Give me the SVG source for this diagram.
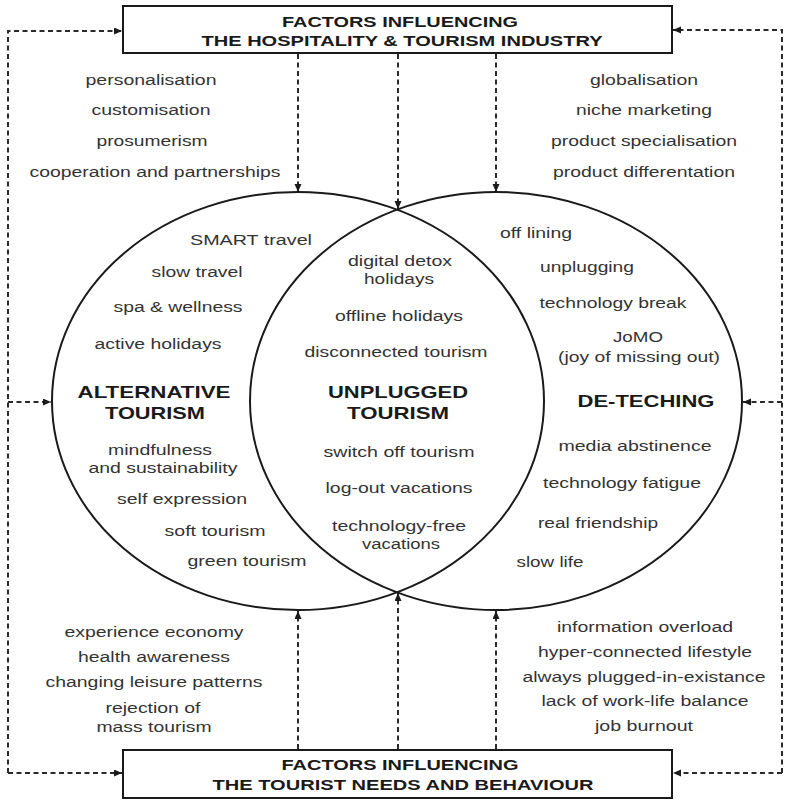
<svg xmlns="http://www.w3.org/2000/svg" width="785" height="801" viewBox="0 0 785 801">
<style>
  .bg{fill:#ffffff}
  .box{fill:#ffffff;stroke:#1a1a1a;stroke-width:2}
  .ell{fill:none;stroke:#1a1a1a;stroke-width:2}
  .dash{fill:none;stroke:#2a2a2a;stroke-width:2;stroke-dasharray:5 3.5}
  .arr{marker-end:url(#ah)}
  text{font-family:"Liberation Sans",Arial,sans-serif;text-anchor:middle}
  .t{font-size:15.5px;fill:#333333}
  .h{font-size:15px;font-weight:bold;fill:#1a1a1a}
  .b{font-size:17px;font-weight:bold;fill:#1a1a1a}
</style>
<defs>
  <marker id="ah" markerUnits="userSpaceOnUse" markerWidth="9" markerHeight="8" refX="8" refY="3.5" orient="auto">
    <path d="M0,0 L8,3.5 L0,7 z" fill="#1a1a1a"/>
  </marker>
</defs>
<rect class="bg" x="0" y="0" width="785" height="801"/>

<g id="connectors">
  <polyline class="dash arr" points="8,773 8,31 122,31"/>
  <line class="dash arr" x1="8" y1="773" x2="122" y2="773"/>
  <line class="dash arr" x1="8" y1="402" x2="51" y2="402"/>
  <polyline class="dash arr" points="782,773 782,30 673,30"/>
  <line class="dash arr" x1="782" y1="773" x2="673" y2="773"/>
  <line class="dash arr" x1="782" y1="402" x2="743" y2="402"/>
  <line class="dash arr" x1="298" y1="54" x2="298" y2="192"/>
  <line class="dash arr" x1="398" y1="54" x2="398" y2="209"/>
  <line class="dash arr" x1="496" y1="54" x2="496" y2="192"/>
  <line class="dash arr" x1="298" y1="749" x2="298" y2="611"/>
  <line class="dash arr" x1="398" y1="749" x2="398" y2="593"/>
  <line class="dash arr" x1="496" y1="749" x2="496" y2="611"/>
</g>

<g id="node-industry">
  <rect class="box" x="123" y="6" width="549" height="47"/>
  <text class="h" x="400" y="26.5" textLength="236" lengthAdjust="spacingAndGlyphs">FACTORS INFLUENCING</text>
  <text class="h" x="402" y="46" textLength="401" lengthAdjust="spacingAndGlyphs">THE HOSPITALITY &amp; TOURISM INDUSTRY</text>
</g>

<g id="node-tourist">
  <rect class="box" x="123" y="750" width="549" height="48"/>
  <text class="h" x="400" y="769.5" textLength="237" lengthAdjust="spacingAndGlyphs">FACTORS INFLUENCING</text>
  <text class="h" x="403" y="789.5" textLength="381" lengthAdjust="spacingAndGlyphs">THE TOURIST NEEDS AND BEHAVIOUR</text>
</g>

<g id="factors-industry-left">
  <text class="t" x="151" y="85" textLength="131" lengthAdjust="spacingAndGlyphs">personalisation</text>
  <text class="t" x="151" y="115" textLength="119" lengthAdjust="spacingAndGlyphs">customisation</text>
  <text class="t" x="152" y="146" textLength="111" lengthAdjust="spacingAndGlyphs">prosumerism</text>
  <text class="t" x="155" y="177" textLength="251" lengthAdjust="spacingAndGlyphs">cooperation and partnerships</text>
</g>
<g id="factors-industry-right">
  <text class="t" x="644" y="85" textLength="108" lengthAdjust="spacingAndGlyphs">globalisation</text>
  <text class="t" x="644" y="115" textLength="136" lengthAdjust="spacingAndGlyphs">niche marketing</text>
  <text class="t" x="644" y="146" textLength="186" lengthAdjust="spacingAndGlyphs">product specialisation</text>
  <text class="t" x="644" y="177" textLength="182" lengthAdjust="spacingAndGlyphs">product differentation</text>
</g>
<g id="factors-tourist-left">
  <text class="t" x="154" y="637" textLength="179" lengthAdjust="spacingAndGlyphs">experience economy</text>
  <text class="t" x="154" y="662" textLength="152" lengthAdjust="spacingAndGlyphs">health awareness</text>
  <text class="t" x="154" y="687" textLength="217" lengthAdjust="spacingAndGlyphs">changing leisure patterns</text>
  <text class="t" x="153" y="713" textLength="95" lengthAdjust="spacingAndGlyphs">rejection of</text>
  <text class="t" x="154" y="732" textLength="115" lengthAdjust="spacingAndGlyphs">mass tourism</text>
</g>
<g id="factors-tourist-right">
  <text class="t" x="645" y="632" textLength="176" lengthAdjust="spacingAndGlyphs">information overload</text>
  <text class="t" x="645" y="657" textLength="214" lengthAdjust="spacingAndGlyphs">hyper-connected lifestyle</text>
  <text class="t" x="644" y="682" textLength="243" lengthAdjust="spacingAndGlyphs">always plugged-in-existance</text>
  <text class="t" x="645" y="706" textLength="207" lengthAdjust="spacingAndGlyphs">lack of work-life balance</text>
  <text class="t" x="644" y="731" textLength="98" lengthAdjust="spacingAndGlyphs">job burnout</text>
</g>

<g id="node-alternative">
  <ellipse class="ell" cx="298" cy="401" rx="246" ry="209"/>
  <text class="t" x="251" y="245" textLength="122" lengthAdjust="spacingAndGlyphs">SMART travel</text>
  <text class="t" x="197" y="277" textLength="91" lengthAdjust="spacingAndGlyphs">slow travel</text>
  <text class="t" x="178" y="312" textLength="129" lengthAdjust="spacingAndGlyphs">spa &amp; wellness</text>
  <text class="t" x="158" y="349" textLength="127" lengthAdjust="spacingAndGlyphs">active holidays</text>
  <text class="b" x="154" y="398" textLength="153" lengthAdjust="spacingAndGlyphs">ALTERNATIVE</text>
  <text class="b" x="155" y="419" textLength="100" lengthAdjust="spacingAndGlyphs">TOURISM</text>
  <text class="t" x="160" y="455" textLength="104" lengthAdjust="spacingAndGlyphs">mindfulness</text>
  <text class="t" x="163" y="473" textLength="149" lengthAdjust="spacingAndGlyphs">and sustainability</text>
  <text class="t" x="182" y="504" textLength="130" lengthAdjust="spacingAndGlyphs">self expression</text>
  <text class="t" x="215" y="536" textLength="101" lengthAdjust="spacingAndGlyphs">soft tourism</text>
  <text class="t" x="247" y="566" textLength="119" lengthAdjust="spacingAndGlyphs">green tourism</text>
</g>

<g id="node-detech">
  <ellipse class="ell" cx="496" cy="401" rx="246" ry="209"/>
  <text class="t" x="536" y="238" textLength="72" lengthAdjust="spacingAndGlyphs">off lining</text>
  <text class="t" x="587" y="272" textLength="94" lengthAdjust="spacingAndGlyphs">unplugging</text>
  <text class="t" x="613" y="308" textLength="147" lengthAdjust="spacingAndGlyphs">technology break</text>
  <text class="t" x="638" y="342" textLength="50" lengthAdjust="spacingAndGlyphs">JoMO</text>
  <text class="t" x="639" y="362" textLength="162" lengthAdjust="spacingAndGlyphs">(joy of missing out)</text>
  <text class="b" x="646" y="407" textLength="137" lengthAdjust="spacingAndGlyphs">DE-TECHING</text>
  <text class="t" x="635" y="451" textLength="153" lengthAdjust="spacingAndGlyphs">media abstinence</text>
  <text class="t" x="622" y="488" textLength="158" lengthAdjust="spacingAndGlyphs">technology fatigue</text>
  <text class="t" x="598" y="528" textLength="120" lengthAdjust="spacingAndGlyphs">real friendship</text>
  <text class="t" x="550" y="567" textLength="67" lengthAdjust="spacingAndGlyphs">slow life</text>
</g>

<g id="node-unplugged">
  <text class="t" x="400" y="266" textLength="104" lengthAdjust="spacingAndGlyphs">digital detox</text>
  <text class="t" x="399" y="284" textLength="70" lengthAdjust="spacingAndGlyphs">holidays</text>
  <text class="t" x="399" y="321" textLength="128" lengthAdjust="spacingAndGlyphs">offline holidays</text>
  <text class="t" x="396" y="357" textLength="183" lengthAdjust="spacingAndGlyphs">disconnected tourism</text>
  <text class="b" x="398" y="398" textLength="140" lengthAdjust="spacingAndGlyphs">UNPLUGGED</text>
  <text class="b" x="398" y="419" textLength="102" lengthAdjust="spacingAndGlyphs">TOURISM</text>
  <text class="t" x="399" y="457" textLength="151" lengthAdjust="spacingAndGlyphs">switch off tourism</text>
  <text class="t" x="399" y="493" textLength="147" lengthAdjust="spacingAndGlyphs">log-out vacations</text>
  <text class="t" x="399" y="531" textLength="134" lengthAdjust="spacingAndGlyphs">technology-free</text>
  <text class="t" x="401" y="549" textLength="78" lengthAdjust="spacingAndGlyphs">vacations</text>
</g>
</svg>
